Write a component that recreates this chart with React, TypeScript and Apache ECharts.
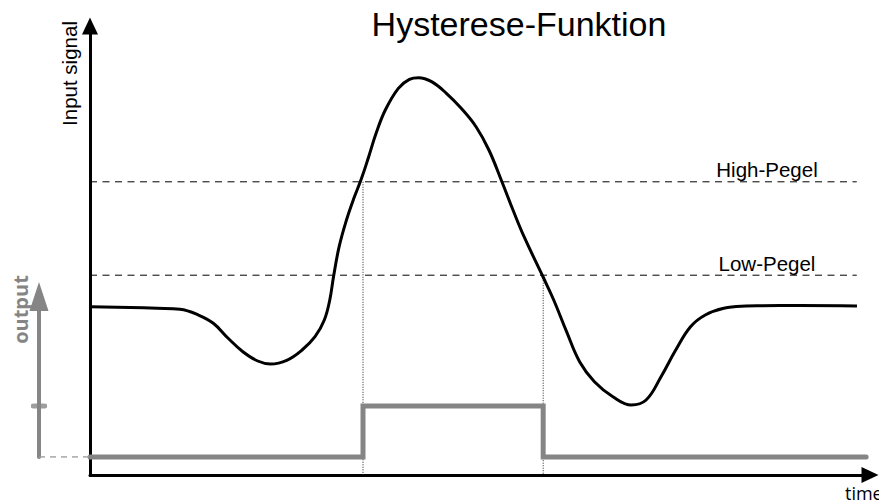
import React, { useEffect, useRef } from "react";
import * as echarts from "echarts";

// time (x) and input signal (y) samples of the curve
const curveTime = [0, 5.13, 8.59, 11.54, 13.91, 15.81, 17.71, 19.6, 21.5, 23.15, 25.29, 27.19, 28.85, 30.04, 30.74, 31.22, 31.94, 32.88, 33.83, 34.78, 35.73, 36.68, 37.86, 39.53, 40.95, 42.13, 43.79, 45.69, 47.59, 49.49, 51.14, 52.81, 54.23, 55.65, 58.03, 59.45, 61.1, 62.77, 64.67, 67.04, 69.4, 71.29, 73.21, 75.09, 76.99, 78.88, 81.26, 84.1, 85.9, 91.03, 98.33];
const curveSignal = [37.48, 37.31, 37.13, 36.9, 35.63, 33.79, 30.45, 27.46, 25.39, 24.72, 25.61, 27.84, 30.8, 34.52, 38.98, 44.16, 50.85, 56.79, 61.63, 65.9, 70.89, 76.1, 81.29, 86.12, 88.13, 88.49, 87.6, 85.01, 81.67, 77.57, 72.38, 65.32, 59.02, 53.07, 44.32, 38.98, 31.92, 25.23, 20.78, 17.44, 15.59, 16.7, 21.89, 27.84, 33.03, 35.63, 37.13, 37.64, 37.71, 37.75, 37.64];

// thresholds
const highLevel = 65.3;
const lowLevel = 44.5;
const thresholdEnd = 98.3;

// switching times and output
const riseTime = 35.0;
const fallTime = 58.1;
const outputEnd = 99.5;
const outputTime = [0, riseTime, riseTime, fallTime, fallTime, outputEnd];
const outputValue = [0, 0, 1, 1, 0, 0];

// texts
const titleText = "Hysterese-Funktion";
const yName = "Input signal";
const outName = "output";
const xName = "time";
const highLabel = "High-Pegel";
const lowLabel = "Low-Pegel";

export default function App() {
  const ref = useRef<HTMLDivElement>(null);
  useEffect(() => {
    if (!ref.current) return;
    const chart = echarts.init(ref.current, null, { renderer: "svg" });
    const gray = "#858585";
    const font = "'Liberation Sans', Arial, sans-serif";
    const option: any = {
      animation: false,
      backgroundColor: "#ffffff",
      grid: [
        { left: 90, right: 9, top: 26, bottom: 26 },
        { left: 39, width: 51, top: 296.5, bottom: 44 },
      ],
      xAxis: [
        {
          gridIndex: 0, type: "value", min: 0, max: 100,
          axisLine: { show: true, onZero: false, symbol: ["none", "triangle"], symbolSize: [16, 17], lineStyle: { color: "#000", width: 3 } },
          axisTick: { show: false }, axisLabel: { show: false }, splitLine: { show: false },
        },
        { gridIndex: 1, type: "value", min: 0, max: 1, show: false },
      ],
      yAxis: [
        {
          gridIndex: 0, type: "value", min: 0, max: 100,
          axisLine: { show: true, onZero: false, symbol: ["none", "triangle"], symbolSize: [16, 17], lineStyle: { color: "#000", width: 3 } },
          axisTick: { show: false }, axisLabel: { show: false }, splitLine: { show: false },
        },
        { gridIndex: 0, type: "value", min: -0.353, max: 8.451, show: false },
        {
          gridIndex: 1, type: "value", min: 0, max: 3.147, position: "left",
          axisLine: { show: true, onZero: false, symbol: ["none", "triangle"], symbolSize: [19, 29], lineStyle: { color: gray, width: 4, cap: "round" } },
          axisTick: { show: false }, axisLabel: { show: false }, splitLine: { show: false },
        },
      ],
      series: [
        {
          type: "line", silent: true, symbol: "none",
          data: [[0, highLevel], [thresholdEnd, highLevel]],
          lineStyle: { color: "#000", width: 1, type: [7, 5.5] },
        },
        {
          type: "line", silent: true, symbol: "none",
          data: [[0, lowLevel], [thresholdEnd, lowLevel]],
          lineStyle: { color: "#000", width: 1, type: [7, 5.5] },
        },
        {
          type: "line", silent: true, symbol: "none",
          data: [[riseTime, highLevel], [riseTime, 0]],
          lineStyle: { color: "#222", width: 1, type: [1, 1.5] },
        },
        {
          type: "line", silent: true, symbol: "none",
          data: [[fallTime, lowLevel], [fallTime, 0]],
          lineStyle: { color: "#222", width: 1, type: [1, 1.5] },
        },
        {
          type: "line", silent: true, symbol: "none", yAxisIndex: 1,
          data: outputTime.map((t, i) => [t, outputValue[i]]),
          lineStyle: { color: gray, width: 5, cap: "round", join: "miter" },
        },
        {
          type: "line", silent: true, symbol: "none", smooth: 0.4,
          data: curveTime.map((t, i) => [t, curveSignal[i]]),
          lineStyle: { color: "#000", width: 3 },
        },
        {
          type: "line", silent: true, symbol: "none", xAxisIndex: 1, yAxisIndex: 2,
          data: [[0, 0], [1, 0]],
          lineStyle: { color: "#9a9a9a", width: 1.5, type: [6, 5] },
        },
        {
          type: "scatter", silent: true, xAxisIndex: 1, yAxisIndex: 2,
          symbol: "roundRect", symbolSize: [16, 5],
          data: [[0, 1]],
          itemStyle: { color: gray },
        },
      ],
      graphic: [
        { type: "text", x: 519, y: 24, style: { text: titleText, fill: "#000", font: `34px ${font}`, textAlign: "center", textVerticalAlign: "middle" } },
        { type: "text", x: 69, y: 73.5, rotation: Math.PI / 2, style: { text: yName, fill: "#000", font: `20.5px ${font}`, textAlign: "center", textVerticalAlign: "middle" } },
        { type: "text", x: 20, y: 309.5, rotation: Math.PI / 2, style: { text: outName, fill: gray, font: `bold 20px 'Open Sans', sans-serif`, textAlign: "center", textVerticalAlign: "middle" } },
        { type: "text", x: 767, y: 169, style: { text: highLabel, fill: "#000", font: `20.5px ${font}`, textAlign: "center", textVerticalAlign: "middle" } },
        { type: "text", x: 767, y: 263.5, style: { text: lowLabel, fill: "#000", font: `20.5px ${font}`, textAlign: "center", textVerticalAlign: "middle" } },
        { type: "text", x: 845, y: 493, style: { text: xName, fill: "#000", font: `18px 'Open Sans', sans-serif`, textAlign: "left", textVerticalAlign: "middle" } },
      ],
    };
    chart.setOption(option);
    return () => chart.dispose();
  }, []);
  return <div ref={ref} style={{ position: "fixed", left: 0, top: 0, width: 879, height: 501 }} />;
}
